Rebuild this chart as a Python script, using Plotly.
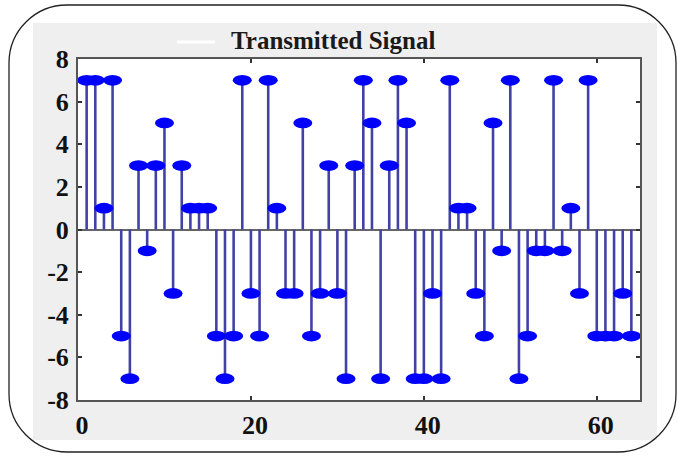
import plotly.graph_objects as go

# ---- data ----
sample_index = list(range(1, 65))
signal_values = [7, 7, 1, 7, -5, -7, 3, -1, 3, 5, -3, 3, 1, 1, 1, -5,
                 -7, -5, 7, -3, -5, 7, 1, -3, -3, 5, -5, -3, 3, -3, -7, 3,
                 7, 5, -7, 3, 7, 5, -7, -7, -3, -7, 7, 1, 1, -3, -5, 5,
                 -1, 7, -7, -5, -1, -1, 7, -1, 1, -3, 7, -5, -5, -5, -3, -5]
x_ticks = [0, 20, 40, 60]
y_ticks = [-8, -6, -4, -2, 0, 2, 4, 6, 8]
title_text = "Transmitted Signal"

# ---- geometry (pixels) ----
W, H = 677, 456
L, R, T, B = 78, 640, 59, 400  # plot area in pixels
pw, ph = R - L, B - T


def px(xp):
    return (xp - L) / pw


def py(yp):
    return (B - yp) / ph


# stems
sx, sy = [], []
for xi, yi in zip(sample_index, signal_values):
    sx += [xi, xi, None]
    sy += [0, yi, None]

fig = go.Figure()
fig.add_trace(go.Scatter(x=sx, y=sy, mode="lines",
                         line=dict(color="#4242a6", width=2.6),
                         hoverinfo="skip", showlegend=False))
fig.add_trace(go.Scatter(x=sample_index, y=signal_values, mode="markers",
                         marker=dict(color="rgba(0,0,0,0)", size=1),
                         showlegend=False))

shapes = []
# gray panel + white plot area
shapes.append(dict(type="rect", xref="paper", yref="paper",
                   x0=px(33), x1=px(657), y0=py(440), y1=py(23),
                   fillcolor="#efefef", line=dict(width=0), layer="below"))
shapes.append(dict(type="rect", xref="paper", yref="paper",
                   x0=0, x1=1, y0=0, y1=1,
                   fillcolor="white", line=dict(width=0), layer="below"))

# elliptical markers (data-referenced)
hw, hh = 1.1, 0.25
for xi, yi in zip(sample_index, signal_values):
    shapes.append(dict(type="circle", xref="x", yref="y",
                       x0=xi - hw, x1=xi + hw, y0=yi - hh, y1=yi + hh,
                       fillcolor="#0000ff", line=dict(width=0), layer="above"))

# legend-like white line next to title
shapes.append(dict(type="line", xref="paper", yref="paper",
                   x0=px(177), x1=px(215), y0=py(42), y1=py(42),
                   line=dict(color="white", width=3)))

# rounded outer frame
fx0, fx1, fy0, fy1, r = 9, 676, 5, 452, 58
k = 0.5523 * r
pts = [
    ("M", [(fx0 + r, fy0)]),
    ("L", [(fx1 - r, fy0)]),
    ("C", [(fx1 - r + k, fy0), (fx1, fy0 + r - k), (fx1, fy0 + r)]),
    ("L", [(fx1, fy1 - r)]),
    ("C", [(fx1, fy1 - r + k), (fx1 - r + k, fy1), (fx1 - r, fy1)]),
    ("L", [(fx0 + r, fy1)]),
    ("C", [(fx0 + r - k, fy1), (fx0, fy1 - r + k), (fx0, fy1 - r)]),
    ("L", [(fx0, fy0 + r)]),
    ("C", [(fx0, fy0 + r - k), (fx0 + r - k, fy0), (fx0 + r, fy0)]),
]
path = ""
for cmd, plist in pts:
    path += cmd + " ".join(f"{px(a):.5f},{py(b):.5f}" for a, b in plist) + " "
path += "Z"
shapes.append(dict(type="path", xref="paper", yref="paper", path=path,
                   line=dict(color="#222222", width=1.3), fillcolor="rgba(0,0,0,0)"))

fig.update_layout(
    width=W, height=H,
    margin=dict(l=L, r=W - R, t=T, b=H - B, pad=0),
    paper_bgcolor="white", plot_bgcolor="white",
    shapes=shapes,
    showlegend=False,
    font=dict(family="Liberation Serif, Times New Roman, serif", color="#111111"),
    annotations=[dict(text=f"<b>{title_text}</b>", xref="paper", yref="paper",
                      x=px(333), y=py(40), xanchor="center", yanchor="middle",
                      showarrow=False,
                      font=dict(size=25, family="Liberation Serif", color="#1a1a1a"))],
)
fig.update_xaxes(range=[0, 65], tickvals=x_ticks,
                 ticktext=[f"<b>{v}</b>" for v in x_ticks],
                 ticks="inside", ticklen=4, tickwidth=1.5, tickcolor="#333",
                 showline=True, linecolor="#555555", linewidth=2, mirror="ticks",
                 showgrid=False, zeroline=False,
                 tickfont=dict(size=26, family="Liberation Serif", color="#111"),
                 ticklabelshift=4, ticklabelstandoff=1)
fig.update_yaxes(range=[-8, 8], tickvals=y_ticks,
                 ticktext=[f"<b>{v}</b>" for v in y_ticks],
                 ticks="inside", ticklen=4, tickwidth=1.5, tickcolor="#333",
                 showline=True, linecolor="#555555", linewidth=2, mirror="ticks",
                 showgrid=False, zeroline=True, zerolinecolor="#666666", zerolinewidth=2,
                 tickfont=dict(size=26, family="Liberation Serif", color="#111"),
                 ticklabelstandoff=2)

fig.write_html("out.html")
